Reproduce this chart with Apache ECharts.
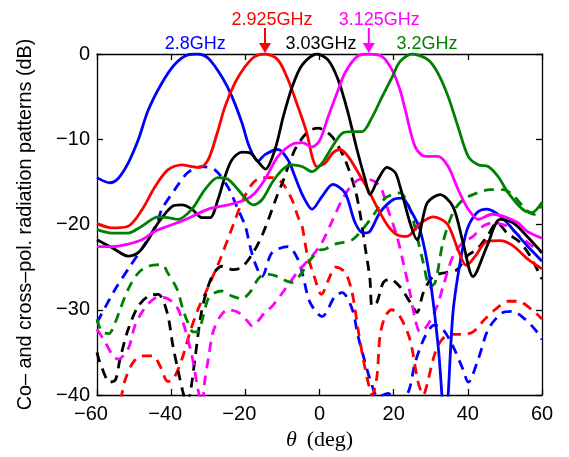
<!DOCTYPE html>
<html><head><meta charset="utf-8">
<script src="https://cdn.jsdelivr.net/npm/echarts/dist/echarts.min.js"></script>
<style>html,body{margin:0;padding:0;background:#fff}#c{width:569px;height:457px}</style>
</head><body><div id="c"></div>
<script>
// ---- data: [theta (deg), level (dB)] ----
const co28 = [[-60,-14.5],[-56.5,-15.1],[-54.3,-14.6],[-51.6,-12.8],[-48.9,-10.1],[-46.2,-6.6],[-42.5,-3.4],[-39,-1.2],[-35.5,-0.1],[-33,0],[-30,-0.5],[-26.3,-2.7],[-23.6,-5.0],[-20.9,-8.1],[-19,-10.8],[-16.6,-12.6],[-14.7,-11.8],[-11.2,-11.2],[-8.5,-12.4],[-6.6,-14.4],[-4.4,-16.7],[-2.0,-18.2],[0.7,-16.7],[3.6,-15.3],[6.9,-16.3],[9.6,-19.8],[11.8,-21],[13.6,-20.8],[16.3,-18.6],[19.8,-17.1],[22.3,-16.9],[24.4,-18.2],[27.1,-20.6],[29.8,-26.4],[32,-34.3],[33,-40],[33.8,-46],[34.7,-40],[36,-30.3],[37.9,-24.5],[39.8,-20.6],[42.5,-18.6],[45.2,-18.2],[48.7,-19.0],[52.2,-20.6],[56,-22.5],[60,-24.3]];
const co2925 = [[-60,-19.9],[-56,-20.4],[-51.6,-20.2],[-47.9,-18.3],[-44.4,-15.6],[-40.9,-13.6],[-37.1,-13],[-34.4,-13.2],[-32.2,-13.3],[-30,-12.4],[-27.6,-9.3],[-25.5,-6.2],[-22.8,-3.4],[-20.1,-1.5],[-17.5,-0.3],[-14.7,0],[-11.2,-0.7],[-8.5,-3.0],[-5.8,-6.2],[-3.4,-9.3],[-2,-12],[-0.7,-13.2],[1.5,-12.8],[3.6,-11.6],[5.5,-11.2],[7.7,-12],[10.4,-13.9],[13.1,-15.9],[15.8,-18.2],[18.5,-20.2],[20.9,-21.2],[23.6,-21.4],[27.1,-19.9],[30.6,-19.1],[34.4,-19.9],[37.4,-23],[39.6,-24.8],[42.2,-23.6],[45,-22],[48.7,-21.9],[52.2,-22.5],[56,-24],[60,-25.2]];
const co303 = [[-60,-21.8],[-56,-22.7],[-51.6,-23.7],[-48.9,-23.3],[-46.2,-21.8],[-43.5,-19.8],[-39.8,-17.9],[-37.1,-17.7],[-34.4,-18.2],[-31.7,-19.2],[-29.5,-19.2],[-27.4,-17.1],[-25.5,-14.4],[-23.6,-12.4],[-20.9,-11.5],[-18.7,-11.6],[-16.8,-12.5],[-14.6,-13.5],[-12,-11.2],[-9.8,-7.4],[-7.4,-3.9],[-4.7,-1.3],[-0.7,0],[2.3,-0.7],[5,-3.0],[7.7,-6.9],[10.1,-11.2],[12.3,-14.7],[13.6,-16.5],[15.8,-14.7],[18.2,-13.3],[20.4,-13.9],[21.7,-15.5],[24.4,-19.8],[26.3,-21.8],[29,-17.5],[32.5,-16.5],[36,-17.9],[38.7,-22.1],[41.4,-26.1],[45.2,-22.5],[48.7,-19.4],[52.2,-19.8],[56,-21.4],[60,-23.3]];
const co3125 = [[-60,-22.6],[-56,-22.6],[-51.6,-22.3],[-47.9,-21.8],[-44.4,-20.8],[-40.9,-20.2],[-37.1,-19.6],[-35.5,-19.3],[-30,-18.2],[-24.7,-17.7],[-20,-17.1],[-17.4,-16.3],[-14.7,-14.7],[-11.2,-12],[-7.4,-10.6],[-4.7,-10.4],[-2,-10.9],[0.1,-10.1],[2.3,-7.4],[4.7,-4.6],[6.9,-2.2],[10.1,-0.3],[13.1,0],[16.9,-0.3],[19.6,-1.9],[21.7,-4.2],[23.1,-6.5],[25.8,-10.9],[28.5,-12],[32,-12],[34.7,-13.2],[37.4,-15.9],[40.1,-18.2],[42.8,-19.4],[46.5,-18.8],[50,-19.1],[53.5,-19.8],[56,-20.8],[60,-21.6]];
const co32 = [[-60,-20.6],[-56,-21],[-51.6,-21],[-47.9,-20.2],[-43.5,-19.1],[-40.9,-19.2],[-38.2,-19.4],[-34.4,-18.2],[-30.9,-15.9],[-27.4,-14.5],[-24.7,-14.7],[-22,-15.9],[-19.3,-17.3],[-17.9,-17.7],[-15.5,-17.1],[-12.8,-15.1],[-10.1,-13.6],[-7.4,-13.0],[-4.7,-13.2],[-2,-13.8],[0.7,-12.8],[3.4,-10.9],[6.1,-9.3],[8.8,-9.1],[11.5,-9.1],[14.2,-7.4],[16.9,-5],[19.6,-2.7],[21.7,-0.9],[25,0],[29.3,-0.7],[32,-2.3],[34.7,-5],[37.4,-8.6],[40.1,-12],[42.8,-13],[45.5,-13.2],[48.2,-14.4],[50.9,-16.3],[54.7,-18.2],[57.3,-18.6],[60,-17.4]];

const x28 = [[-60,-31.5],[-55.1,-27.6],[-51.1,-24.9],[-47.1,-22.3],[-43.8,-19.8],[-42.5,-18.2],[-39,-15.9],[-35.5,-13.9],[-31.7,-13.2],[-28.2,-13.6],[-24.7,-15.6],[-22,-18.2],[-20,-20.2],[-18.7,-22.6],[-17.4,-24.5],[-15.5,-26.1],[-12.8,-23.3],[-8.5,-22.6],[-5.8,-24.1],[-4.4,-26.1],[-2.6,-29.1],[0.7,-30.8],[4.2,-28.4],[6.1,-28],[8.8,-29.9],[10.4,-33.1],[12.3,-36.2],[13.6,-38.1],[15.8,-40.2],[18.5,-39.8],[21,-40.8],[23.9,-39.7],[25.8,-36.2],[28.5,-33.1],[31,-31.8],[33.3,-32.3],[36,-34.3],[38.7,-37],[40.1,-38.5],[42.8,-35.8],[45.5,-32.3],[49.2,-30.4],[52,-30.2],[55.4,-31.1],[58.1,-32.3],[60,-33.5]];
const x2925 = [[-60,-48],[-55.5,-44],[-53.2,-39.7],[-52.4,-38.2],[-50.3,-36.2],[-47.9,-35.4],[-44.9,-35.4],[-43,-36.6],[-40.9,-38.4],[-39.5,-38.2],[-37.1,-35.8],[-34.9,-32.6],[-32.8,-30],[-30,-27.3],[-26.8,-24.1],[-24.1,-21],[-20.6,-17.1],[-17.9,-15.1],[-15.5,-14.5],[-12.8,-14.5],[-10.1,-15.1],[-7.4,-17.1],[-5.8,-19.1],[-4.7,-20.2],[-3.4,-23.3],[-1.2,-26.4],[0.5,-28.2],[2.8,-26.1],[4.2,-25],[6.9,-25.6],[8.8,-28],[10.4,-32.3],[11.8,-35.8],[13.1,-38.5],[14.2,-40],[15.5,-37.8],[16.3,-33.1],[17.7,-30.8],[19.5,-30],[21.7,-30.8],[24.4,-33.5],[26.6,-38.5],[28,-40],[29.3,-38.2],[31.2,-35],[33,-33.5],[35.2,-32.9],[38.4,-32.9],[41.4,-32.6],[44.6,-31.1],[47.3,-30],[50.9,-29],[53.5,-29],[57.3,-30],[60,-31.1]];
const x303 = [[-60,-35],[-59.2,-36.2],[-56.5,-38.5],[-55,-38.2],[-53.8,-35.8],[-51.6,-32.3],[-48.9,-29.6],[-46.2,-28.4],[-43.5,-28.2],[-41.1,-30.3],[-39.5,-34.3],[-38.2,-37],[-36.8,-39.7],[-35.8,-41],[-34.9,-39.9],[-33.6,-35.8],[-31.7,-30],[-29,-26.1],[-26.3,-24.9],[-23.3,-25.3],[-20.9,-25],[-17.9,-23.3],[-15.2,-21],[-11.5,-16.7],[-10.1,-15.2],[-6.6,-11.2],[-3.1,-9.1],[-0.4,-8.7],[1.5,-9.0],[3.6,-9.8],[6.9,-12.4],[9.6,-15.9],[10.9,-18.6],[12.3,-22.6],[13.6,-26.4],[14.2,-29.6],[15.5,-29.1],[17.2,-26.8],[19,-26.4],[21.7,-27.3],[24.4,-29.1],[26.3,-30.3],[28,-28],[30.6,-26.1],[34.4,-25.6],[37.1,-25.3],[39.8,-23.7],[42.5,-22.9],[45.2,-21.4],[47.9,-19.8],[50.6,-21],[54.1,-22.1],[56.8,-23.7],[60,-26.4]];
const x3125 = [[-60,-32.3],[-57.8,-33.8],[-55.7,-35.4],[-54.3,-35.8],[-51.6,-34.6],[-49.8,-31.9],[-47.9,-30.3],[-45.7,-29.1],[-43.5,-28.5],[-40.9,-28.7],[-38.4,-29.7],[-36.8,-31.5],[-35.7,-33.1],[-34.4,-35.4],[-33.6,-37.3],[-32.8,-39.3],[-31.7,-41],[-30.9,-38.2],[-30,-35.8],[-28.7,-32.6],[-26.8,-30.8],[-24.7,-30],[-22,-30.3],[-19.5,-31.3],[-18.2,-31.9],[-14.7,-30.3],[-12.8,-29.6],[-9.3,-27.6],[-5.8,-25.5],[-2,-23.7],[0.7,-22.1],[3.4,-19.6],[6.1,-17.1],[8.5,-15.5],[11,-14.7],[13.1,-14.7],[16.3,-15.5],[18.2,-17.9],[20.9,-21.4],[22.6,-24.5],[24.4,-28],[25.8,-31.1],[27.1,-32.6],[29,-31.9],[31.7,-29.6],[33.3,-27.3],[36,-23.7],[38.7,-22.1],[41.4,-21.4],[44.1,-20.2],[46.8,-19.8],[50.6,-20.2],[54.1,-21.4],[57.6,-22.6],[60,-23.3]];
const x32 = [[-60,-31.1],[-58.7,-32.6],[-56.8,-32.8],[-55.1,-31.5],[-53.8,-30],[-51.6,-27.6],[-48.9,-25.7],[-46.2,-24.9],[-42.5,-24.7],[-40.9,-25.7],[-38.4,-27.6],[-36.8,-30],[-35.5,-31.5],[-34.1,-32.6],[-32.8,-32.6],[-31.4,-30.8],[-30,-28.7],[-28.2,-28],[-26.3,-27.8],[-23.6,-28.4],[-20.9,-28.7],[-18.5,-27.8],[-16.6,-26.4],[-14.7,-25.8],[-12,-26],[-10.1,-26.4],[-7.4,-26.8],[-5,-25.8],[-3.1,-24.5],[0,-23],[1.5,-22.9],[4.2,-22.3],[8.8,-21.8],[12.3,-20.2],[15,-18.6],[17.7,-16.9],[19.6,-16.5],[21.7,-16.3],[24.4,-18.2],[26.3,-21.4],[28,-24.5],[29.8,-27.3],[31.2,-26.8],[33.3,-22.1],[36,-18.6],[38.7,-17.1],[42.5,-16.3],[46,-15.9],[49.5,-15.9],[52,-16.5],[56,-18.4],[58,-18.8],[60,-17.6]];

const freqLabels = ['2.8GHz','2.925GHz','3.03GHz','3.125GHz','3.2GHz'];
const xTicks = [-60,-40,-20,0,20,40,60];
const yTicks = [-40,-30,-20,-10,0];

// ---- presentation ----
const colors = ['#0000FF','#FF0000','#000000','#FF00FF','#008000'];
const coSets = [co28, co2925, co303, co3125, co32];
const xSets = [x28, x2925, x303, x3125, x32];
const labelCenterDeg = [-33.5,-12.8,0.4,16.1,29];
const labelRow = [0,1,0,1,0];
const arrowDeg = [null,-14.7,null,13.3,null];

const FONT = '"Liberation Sans", Arial, Helvetica, sans-serif';
const SERIF = '"Liberation Serif", "DejaVu Serif", serif';
const fmtMinus = v => (v < 0 ? '\u2212' + Math.abs(v) : '' + v);

const series = [];
xSets.forEach((d, i) => series.push({
  type:'line', data:d, symbol:'none', smooth:0.3, clip:true, z:2,
  lineStyle:{color:colors[i], width:2.8, type:[10,7]}, itemStyle:{color:colors[i]}
}));
coSets.forEach((d, i) => series.push({
  name:freqLabels[i], type:'line', data:d, symbol:'none', smooth:0.3, clip:true, z:3,
  lineStyle:{color:colors[i], width:2.8}, itemStyle:{color:colors[i]}
}));

const axLine = {show:true, onZero:false, lineStyle:{color:'#000', width:1.3}};
const axTick = {show:true, inside:true, length:6, lineStyle:{color:'#000', width:1.3}};

const chart = echarts.init(document.getElementById('c'), null, {renderer:'canvas'});
chart.setOption({
  animation:false,
  backgroundColor:'#fff',
  grid:{left:97, right:27, top:54, bottom:62, containLabel:false},
  xAxis:[{
    type:'value', min:xTicks[0], max:xTicks[xTicks.length-1], interval:20, position:'bottom',
    axisLine:axLine, axisTick:axTick, splitLine:{show:false},
    axisLabel:{margin:9, formatter:v => v < 0 ? '{n|' + fmtMinus(v) + '}' : '{p|' + v + '}',
      rich:{n:{fontSize:20, fontFamily:FONT, color:'#000', padding:[0,12,0,0]},
            p:{fontSize:20, fontFamily:FONT, color:'#000'}}},
    name:'{i|θ}\u2009 (deg)', nameLocation:'middle', nameGap:29,
    nameTextStyle:{fontSize:22, fontFamily:SERIF, color:'#000',
      rich:{i:{fontSize:22, fontStyle:'italic', fontFamily:SERIF, color:'#000'}}}
  },{
    type:'value', min:-60, max:60, interval:20, position:'top',
    axisLine:axLine, axisTick:axTick, axisLabel:{show:false}, splitLine:{show:false}
  }],
  yAxis:[{
    type:'value', min:yTicks[0], max:yTicks[yTicks.length-1], interval:10, position:'left',
    axisLine:axLine, axisTick:axTick, splitLine:{show:false},
    axisLabel:{margin:7, fontSize:20, fontFamily:FONT, color:'#000', formatter:fmtMinus},
    name:'Co– and cross–pol. radiation patterns (dB)', nameLocation:'middle', nameGap:61, nameRotate:90,
    nameTextStyle:{fontSize:19.8, fontFamily:FONT, color:'#000'}
  },{
    type:'value', min:-40, max:0, interval:10, position:'right',
    axisLine:axLine, axisTick:axTick, axisLabel:{show:false}, splitLine:{show:false}
  }],
  series: series
});

// annotations above the plot
const g = [];
const top0 = chart.convertToPixel({gridIndex:0}, [0, 0])[1];
freqLabels.forEach((t, i) => {
  const cx = chart.convertToPixel({gridIndex:0}, [labelCenterDeg[i], 0])[0];
  const cy = labelRow[i] === 0 ? top0 - 10 : top0 - 34;
  g.push({type:'text', x:cx, y:cy, z:10, style:{text:t, fill:colors[i], font:'18px ' + FONT, align:'center', verticalAlign:'middle'}});
  if (arrowDeg[i] !== null) {
    const ax = chart.convertToPixel({gridIndex:0}, [arrowDeg[i], 0])[0];
    g.push({type:'line', z:10, shape:{x1:ax, y1:top0 - 26, x2:ax, y2:top0 - 10}, style:{stroke:colors[i], lineWidth:2}});
    g.push({type:'polygon', z:10, shape:{points:[[ax - 6, top0 - 11], [ax + 6, top0 - 11], [ax, top0 - 1]]}, style:{fill:colors[i]}});
  }
});
chart.setOption({graphic:g});
</script></body></html>
